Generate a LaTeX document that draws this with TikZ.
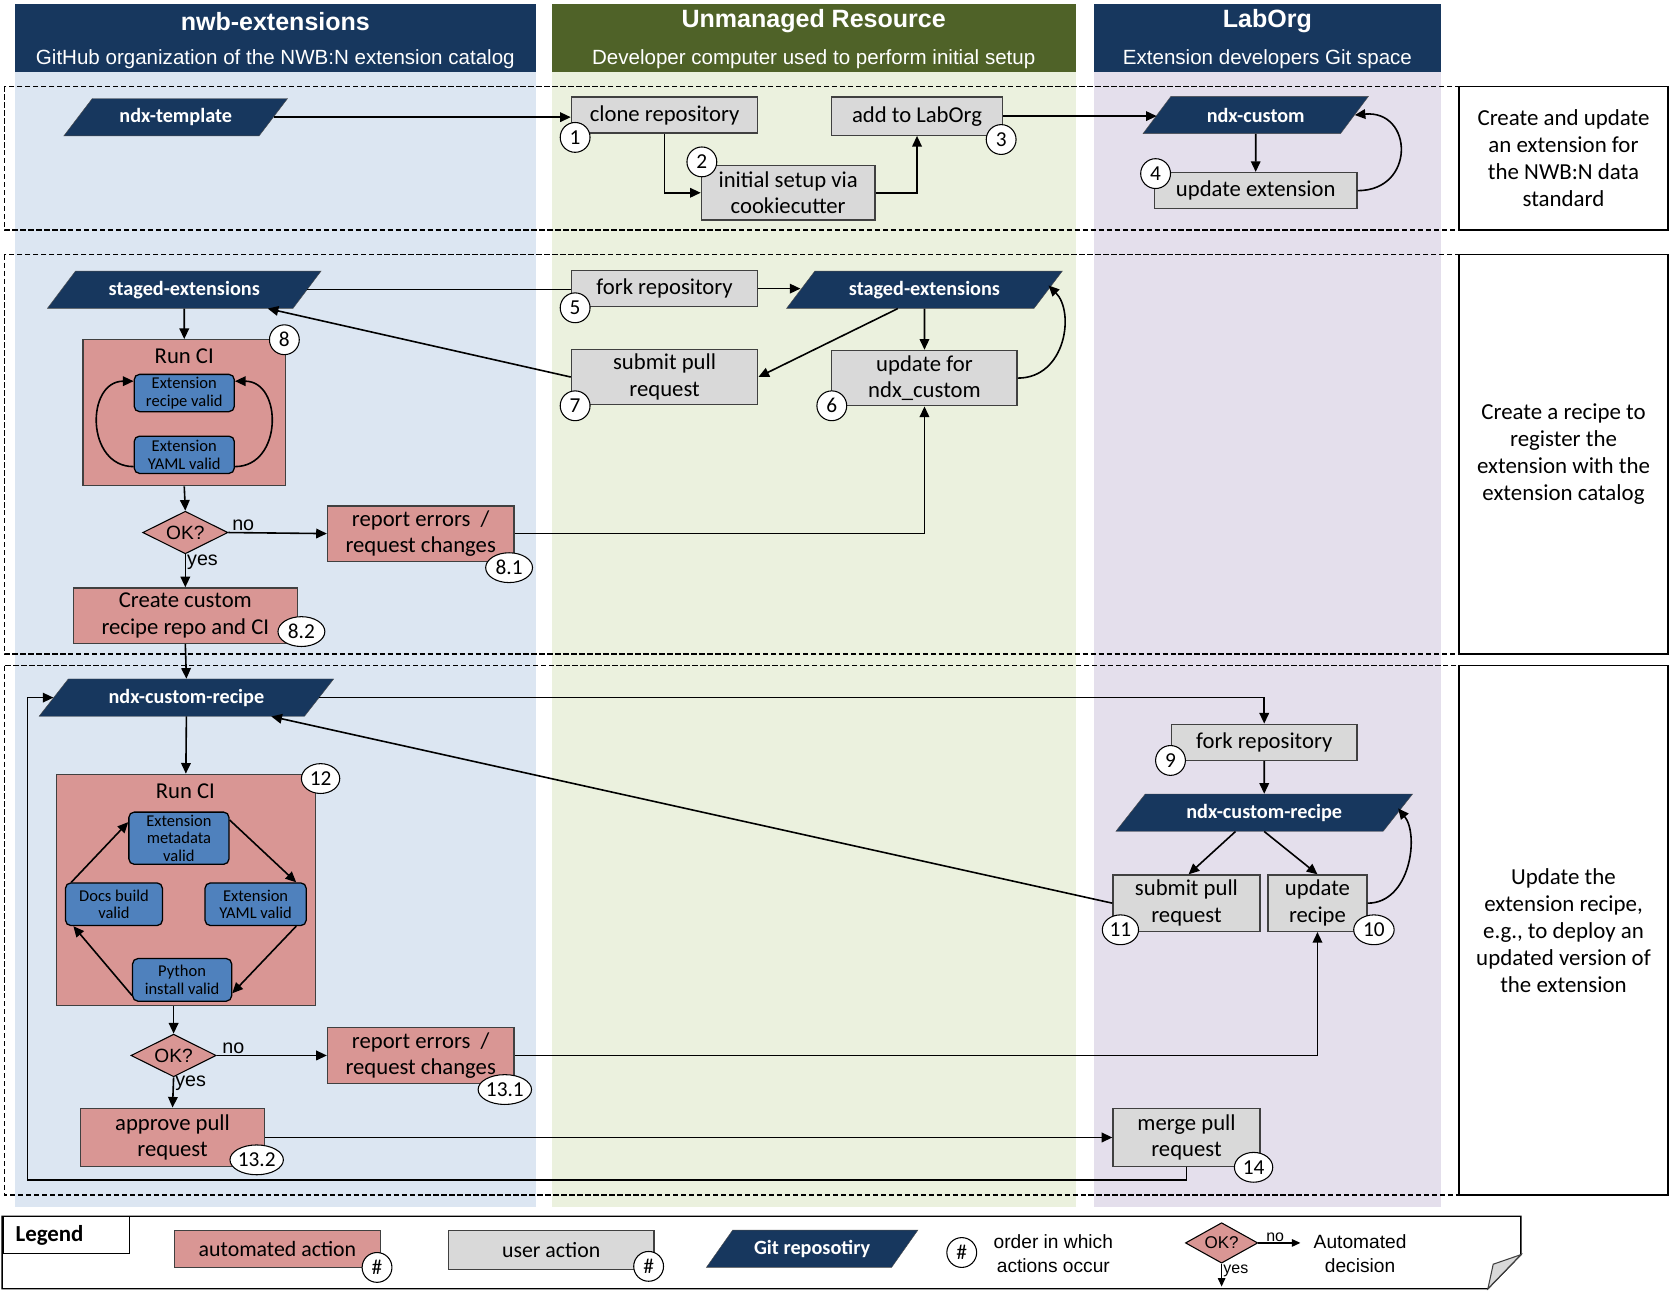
\documentclass[tikz,border=0pt]{standalone}
\usepackage{fontspec}
\setmainfont{Carlito}
\newfontfamily\hdrfont{Liberation Sans}
\usetikzlibrary{calc, positioning, shapes.geometric, arrows.meta}
\definecolor{navy}{HTML}{17375E}
\definecolor{olive}{HTML}{4F6228}
\definecolor{bgblue}{HTML}{DCE6F2}
\definecolor{bggreen}{HTML}{EBF1DE}
\definecolor{bgpurple}{HTML}{E4DFEC}
\definecolor{autopink}{HTML}{D99694}
\definecolor{usergrey}{HTML}{D9D9D9}
\definecolor{checkblue}{HTML}{4F81BD}
\definecolor{edgegrey}{HTML}{404040}

\begin{document}
\begin{tikzpicture}[x=1pt, y=-1pt,
  every node/.style={font=\fontsize{21.3}{25}\selectfont, align=center},
  userbox/.style={draw=edgegrey, fill=usergrey, line width=1.2pt, inner sep=1pt},
  autobox/.style={draw=edgegrey, fill=autopink, line width=1.2pt, inner sep=1pt},
  repo/.style={trapezium, trapezium left angle=45, trapezium right angle=135,
               trapezium stretches=true,
               fill=navy, draw=black!70, text=white, inner sep=1pt, minimum height=35pt,
               font=\fontsize{19}{22}\selectfont\bfseries},
  checkbox/.style={draw=black, fill=checkblue, rounded corners=5pt, line width=1.2pt,
                   inner sep=0.5pt, font=\fontsize{15.5}{16.5}\selectfont},
  decision/.style={diamond, aspect=2, draw=black, fill=autopink, line width=1pt,
                   inner sep=0pt, minimum width=80pt, minimum height=40pt,
                   font=\hdrfont\fontsize{18}{20}\selectfont},
  num/.style={circle, draw, fill=white, line width=1pt, inner sep=0pt, minimum size=28pt,
              font=\fontsize{20}{22}\selectfont},
  numw/.style={num, ellipse, minimum width=#1},
  numw/.default=44pt,
  descbox/.style={draw, line width=1.3pt, minimum width=196pt, font=\fontsize{21.5}{25.3}\selectfont},
  phase/.style={draw, dash pattern=on 5pt off 2.5pt, line width=1.3pt},
  flowarrow/.style={-{Triangle[length=10pt,width=9pt]}, line width=1.5pt},
  flowline/.style={line width=1.5pt},
  yesno/.style={font=\hdrfont\fontsize{18.5}{20}\selectfont, inner sep=1pt},
  legtext/.style={font=\fontsize{20.5}{23}\selectfont},
  legsans/.style={font=\hdrfont\fontsize{18}{23}\selectfont},
  hdrtitle/.style={text=white, font=\hdrfont\fontsize{23.5}{25}\selectfont\bfseries},
  hdrsub/.style={text=white, font=\hdrfont\fontsize{19.3}{21}\selectfont},
]
\useasboundingbox (0,0) rectangle (1568,1226);

% swimlanes
\fill[bgblue] (14,68) rectangle (503,1133);
\fill[bggreen] (518,68) rectangle (1010,1133);
\fill[bgpurple] (1027,68) rectangle (1353,1133);
\fill[navy] (14,4) rectangle (503,68);
\fill[olive] (518,4) rectangle (1010,68);
\fill[navy] (1027,4) rectangle (1353,68);
\node[hdrtitle] (h1t) at (258.5,20) {nwb-extensions};
\node[hdrsub] (h1s) at (258.5,56) {GitHub organization of the NWB:N extension catalog};
\node[hdrtitle] (h2t) at (764,20) {Unmanaged Resource};
\node[hdrsub] (h2s) at (764,56) {Developer computer used to perform initial setup};
\node[hdrtitle] (h3t) at (1190,20) {LabOrg};
\node[hdrsub] (h3s) at (1190,56) {Extension developers Git space};

% phases
\draw[phase] (4,81) rectangle (1370,216);
\draw[phase] (4,239) rectangle (1370,614);
\draw[phase] (4,625) rectangle (1370,1122);
\node[descbox, minimum height=135pt] (desc1) at (1468,148.5) {Create and update\\an extension for\\the NWB:N data\\standard};
\node[descbox, minimum height=375pt] (desc2) at (1468,426.5) {Create a recipe to\\register the\\extension with the\\extension catalog};
\node[descbox, minimum height=497pt] (desc3) at (1468,873.5) {Update the\\extension recipe,\\e.g., to deploy an\\updated version of\\the extension};

% phase 1
\node[repo, minimum width=210pt] (tmpl) at (165,110) {ndx-template};
\node[userbox, minimum width=175pt, minimum height=34pt] (clone) at (624,108) {clone repository};
\node[userbox, minimum width=163pt, minimum height=51pt] (init) at (740,181) {initial setup via\\cookiecutter};
\node[userbox, minimum width=161pt, minimum height=36pt] (addlab) at (861,109) {add to LabOrg};
\node[repo, minimum width=212pt] (custom) at (1179,108) {ndx-custom};
\node[userbox, minimum width=190pt, minimum height=34pt] (updext) at (1179,179) {update extension};

% phase 2
\node[repo, minimum width=257pt] (stagedA) at (173,272) {staged-extensions};
\node[autobox, minimum width=190pt, minimum height=137pt] (ci8) at (173,387.5) {};
\node (ci8t) at (173,334) {Run CI};
\node[checkbox, minimum width=94pt, minimum height=35pt] (recipe8) at (173,369) {Extension\\recipe valid};
\node[checkbox, minimum width=94pt, minimum height=35pt] (yaml8) at (173,427) {Extension\\YAML valid};
\node[decision] (ok8) at (174,500) {OK?};
\node[autobox, minimum width=175pt, minimum height=52pt] (rep8) at (395,501) {report errors\ \ /\\request changes};
\node[autobox, minimum width=210pt, minimum height=52pt] (create) at (174,578) {Create custom\\recipe repo and CI};
\node[userbox, minimum width=175pt, minimum height=34pt] (fork5) at (624,271) {fork repository};
\node[repo, minimum width=259pt] (stagedB) at (868,272) {staged-extensions};
\node[userbox, minimum width=175pt, minimum height=52pt] (submit7) at (624,354) {submit pull\\request};
\node[userbox, minimum width=174pt, minimum height=52pt] (upd6) at (868,355) {update for\\ndx\_custom};

% phase 3
\node[repo, minimum width=277pt] (recipeL) at (175,655) {ndx-custom-recipe};
\node[autobox, minimum width=243pt, minimum height=217pt] (ci12) at (174.5,835.5) {};
\node (ci12t) at (174,743) {Run CI};
\node[checkbox, minimum width=94pt, minimum height=49pt] (meta) at (168,787) {Extension\\metadata\\valid};
\node[checkbox, minimum width=91pt, minimum height=40pt] (docs) at (107,849) {Docs build\\valid};
\node[checkbox, minimum width=95pt, minimum height=40pt] (yaml12) at (240,849) {Extension\\YAML valid};
\node[checkbox, minimum width=93pt, minimum height=40pt] (python) at (171,920) {Python\\install valid};
\node[decision] (ok12) at (163,991) {OK?};
\node[autobox, minimum width=175pt, minimum height=52pt] (rep12) at (395,991) {report errors\ \ /\\request changes};
\node[autobox, minimum width=173pt, minimum height=55pt] (approve) at (162,1068) {approve pull\\request};
\node[userbox, minimum width=174pt, minimum height=34pt] (fork9) at (1187,697) {fork repository};
\node[repo, minimum width=279pt] (recipeR) at (1187,763) {ndx-custom-recipe};
\node[userbox, minimum width=138pt, minimum height=53pt] (submit11) at (1114,848) {submit pull\\request};
\node[userbox, minimum width=93pt, minimum height=53pt] (updrec) at (1237,848) {update\\recipe};
\node[userbox, minimum width=138pt, minimum height=54pt] (merge) at (1114,1068) {merge pull\\request};
\coordinate (retcorner) at (26,1108);

% connectors
\draw[flowarrow] (tmpl.east) -- (tmpl.east -| clone.west);
\draw[flowarrow] (clone.south) |- (init.west);
\draw[flowarrow] (init.east) -| (addlab.south);
\draw[flowarrow] (addlab.east) -- (addlab.east -| custom.west);
\draw[flowarrow] (custom.south) -- (updext.north);
\draw[flowarrow] (updext.east) .. controls +(55,0) and +(55,-5) .. (custom.east);

\draw[flowline] (stagedA.east) -- (stagedA.east -| fork5.west);
\draw[flowarrow] (fork5.east) -- (fork5.east -| stagedB.west);
\draw[flowarrow] ([xshift=-25pt]stagedB.south) -- (submit7.east);
\draw[flowarrow] (stagedB.south) -- (upd6.north);
\draw[flowarrow] (upd6.east) .. controls +(45,0) and +(25,25) .. ([yshift=4pt]stagedB.east);
\draw[flowarrow] (submit7.west) -- (stagedA);
\draw[flowarrow] (stagedA.south) -- (ci8.north);
\draw[flowarrow] ([yshift=7pt]yaml8.south west) .. controls +(-45,0) and +(-45,0) .. ([yshift=-7pt]recipe8.north west);
\draw[flowarrow] ([yshift=7pt]yaml8.south east) .. controls +(45,0) and +(45,0) .. ([yshift=-7pt]recipe8.north east);
\draw[flowarrow] (ci8.south) -- (ok8.north);
\draw[flowarrow] (ok8.east) -- node[yesno, above, pos=0.15] {no} (rep8.west);
\draw[flowarrow] (ok8.south) -- node[yesno, right, pos=0.25] {yes} (create.north);
\draw[flowarrow] (rep8.east) -| (upd6.south);
\draw[flowarrow] (create.south) -- (recipeL.north);

\draw[flowarrow] (recipeL.east) -| (fork9.north);
\draw[flowarrow] (fork9.south) -- (recipeR.north);
\draw[flowarrow] ([xshift=-27pt]recipeR.south) -- ([xshift=2pt]submit11.north);
\draw[flowarrow] (recipeR.south) -- (updrec.north);
\draw[flowarrow] (updrec.east) .. controls +(40,0) and +(20,25) .. ([yshift=4pt]recipeR.east);
\draw[flowarrow] (submit11.west) -- (recipeL);
\draw[flowarrow] (recipeL.south) -- (ci12.north);
\draw[flowarrow] ([xshift=6pt]docs.north west) -- ([yshift=-10pt]meta.north west);
\draw[flowarrow] ([yshift=-8pt]meta.north east) -- ([xshift=-10pt]yaml12.north east);
\draw[flowarrow] ([xshift=-10pt]yaml12.south east) -- ([yshift=8pt]python.south east);
\draw[flowarrow] ([yshift=6pt]python.south west) -- ([xshift=8pt]docs.south west);
\draw[flowarrow] (ok12.north |- ci12.south) -- (ok12.north);
\draw[flowarrow] (ok12.east) -- node[yesno, above, pos=0.15] {no} (rep12.west);
\draw[flowarrow] (ok12.south) -- node[yesno, right, pos=0.2] {yes} (approve.north);
\draw[flowarrow] (rep12.east) -| (updrec.south);
\draw[flowarrow] (approve.east) -- (approve.east -| merge.west);
\draw[flowarrow] (merge.south) |- (retcorner) |- (recipeL.west);

% order numbers
\node[num] (c1) at (540,129) {1};
\node[num] (c2) at (659,152) {2};
\node[num] (c3) at (940,131) {3};
\node[num] (c4) at (1085,163) {4};
\node[num] (c5) at (540,289) {5};
\node[num] (c6) at (781,381) {6};
\node[num] (c7) at (540,381) {7};
\node[num] (c8) at (267,319) {8};
\node[numw] (c81) at (478,533) {8.1};
\node[numw] (c82) at (283,593) {8.2};
\node[num] (c9) at (1099,714) {9};
\node[numw=38pt] (c10) at (1290,873) {10};
\node[numw=34pt] (c11) at (1052,873) {11};
\node[numw=36pt] (c12) at (301,731) {12};
\node[numw] (c131) at (474,1023) {13.1};
\node[numw] (c132) at (241,1089) {13.2};
\node[numw=36pt] (c14) at (1177,1096) {14};

% legend
\draw[line width=1.3pt] (2,1142) -- (1428,1142) -- (1428,1178) -- (1397,1210) -- (2,1210) -- cycle;
\filldraw[fill=usergrey, draw=edgegrey, line width=1pt] (1428,1178) -- (1397,1210) -- (1402,1187) -- cycle;
\node[draw, line width=1.3pt, anchor=west, text width=95pt, align=left, inner xsep=12pt,
      minimum height=35pt, font=\fontsize{21.5}{23}\selectfont\bfseries] (legend) at (2,1159.5) {Legend};
\node[autobox, minimum width=193pt, minimum height=35pt, legtext] (lauto) at (260.5,1172.5) {automated action};
\node[num] (lnum1) at (354,1190) {\#};
\node[userbox, minimum width=193pt, minimum height=37pt, legtext] (luser) at (517.5,1173.5) {user action};
\node[num] (lnum2) at (609,1189) {\#};
\node[repo, minimum width=199pt] (lrepo) at (762.5,1172.5) {Git reposotiry};
\node[num] (lnum3) at (903,1176) {\#};
\node[legsans] (lorder) at (989,1177) {order in which\\actions occur};
\node[decision, minimum width=68pt, minimum height=38pt, font=\hdrfont\fontsize{16}{18}\selectfont] (lok) at (1147,1167) {OK?};
\coordinate (lnoend) at (1221,1167);
\coordinate (lyesend) at (1147,1208);
\draw[-{Triangle[length=8pt,width=7pt]}, line width=1.3pt] (lok.east) -- node[yesno, above, pos=0.4, font=\hdrfont\fontsize{15}{17}\selectfont] {no} (lnoend);
\draw[-{Triangle[length=8pt,width=7pt]}, line width=1.3pt] (lok.south) -- node[yesno, right, pos=0.3, font=\hdrfont\fontsize{15}{17}\selectfont] {yes} (lyesend);
\node[legsans] (ldecide) at (1277,1177) {Automated\\decision};
\end{tikzpicture}
\end{document}
